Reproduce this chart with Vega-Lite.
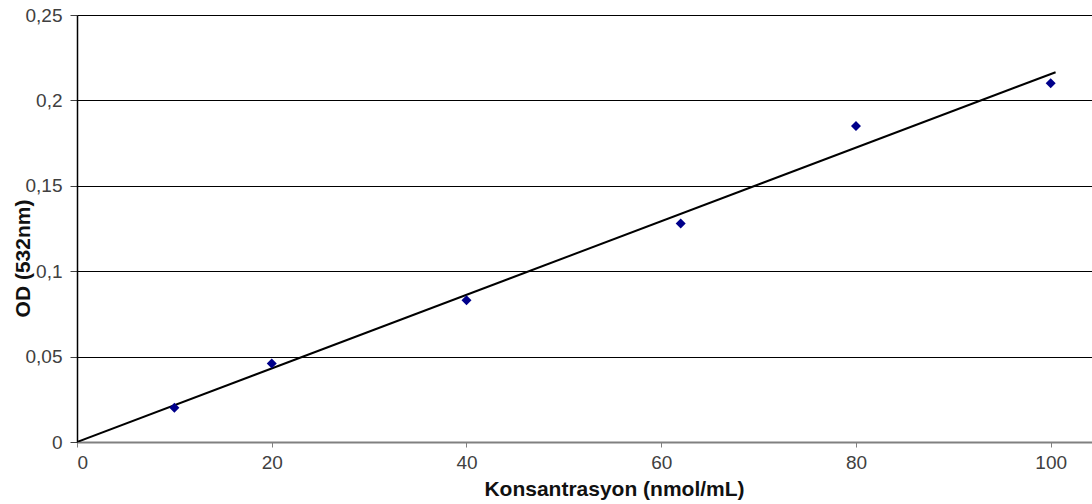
{
  "$schema": "https://vega.github.io/schema/vega-lite/v6.json",
  "width": 1015,
  "height": 427,
  "autosize": {"type": "none"},
  "padding": {"left": 77, "top": 15, "right": 0, "bottom": 62},
  "background": "white",
  "config": {
    "view": {"stroke": null},
    "font": "Liberation Sans"
  },
  "datasets": {
    "pts": [
      {"x": 10, "y": 0.02},
      {"x": 20, "y": 0.046},
      {"x": 40, "y": 0.083},
      {"x": 62, "y": 0.128},
      {"x": 80, "y": 0.185},
      {"x": 100, "y": 0.21}
    ],
    "fit": [
      {"x": 0, "y": 0},
      {"x": 100.5, "y": 0.2165}
    ]
  },
  "layer": [
    {
      "data": {"name": "fit"},
      "mark": {"type": "line", "color": "black", "strokeWidth": 2, "clip": true},
      "encoding": {
        "x": {
          "field": "x", "type": "quantitative",
          "scale": {"domain": [0, 104.24], "nice": false, "zero": false},
          "axis": {
            "values": [0, 20, 40, 60, 80, 100],
            "title": "Konsantrasyon (nmol/mL)",
            "titleFont": "Liberation Sans", "titleFontSize": 21, "titleFontWeight": "bold", "titleColor": "#111111",
            "titleX": 537, "titleY": 53, "titleBaseline": "alphabetic", "titleAlign": "center",
            "labelFont": "Liberation Sans", "labelFontSize": 19, "labelColor": "#404040",
            "labelPadding": 6,
            "domainColor": "#808080", "domainWidth": 2,
            "tickColor": "#808080", "tickSize": 5, "tickWidth": 1,
            "grid": false
          }
        },
        "y": {
          "field": "y", "type": "quantitative",
          "scale": {"domain": [0, 0.25], "nice": false},
          "axis": {
            "values": [0, 0.05, 0.1, 0.15, 0.2, 0.25],
            "labelExpr": "replace(format(datum.value, '.2~f'), '.', ',')",
            "title": "OD (532nm)",
            "titleFont": "Liberation Sans", "titleFontSize": 21, "titleFontWeight": "bold", "titleColor": "#111111",
            "titleX": -48, "titleY": 243, "titleAngle": -90, "titleBaseline": "alphabetic", "titleAlign": "center",
            "labelFont": "Liberation Sans", "labelFontSize": 19, "labelColor": "#404040",
            "labelPadding": 8,
            "domainColor": "black", "domainWidth": 1.5,
            "tickColor": "#404040", "tickSize": 7, "tickWidth": 1,
            "grid": true, "gridColor": "black", "gridWidth": 1, "gridOpacity": 1
          }
        }
      }
    },
    {
      "data": {"name": "pts"},
      "mark": {"type": "point", "shape": "diamond", "filled": true, "color": "#00008B", "size": 100, "opacity": 1},
      "encoding": {
        "x": {"field": "x", "type": "quantitative"},
        "y": {"field": "y", "type": "quantitative"}
      }
    }
  ]
}
